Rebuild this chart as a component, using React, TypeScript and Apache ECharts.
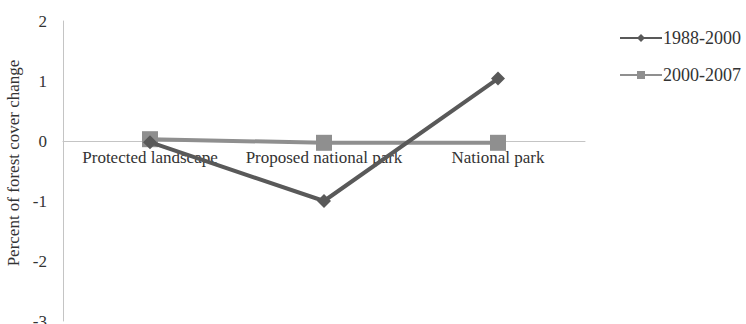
import React, { useEffect, useRef } from "react";
import * as echarts from "echarts";

const categories = ["Protected landscape", "Proposed national park", "National park"];
const series1988 = [-0.02, -1.0, 1.04];
const series2000 = [0.03, -0.03, -0.03];
const seriesNames = ["1988-2000", "2000-2007"];

export default function App() {
  const ref = useRef<HTMLDivElement>(null);
  useEffect(() => {
    const chart = echarts.init(ref.current!, null, { renderer: "svg" });
    const font = "Liberation Serif";
    const gridTop = 21;
    const gridBottom = 3;
    const plotH = 324 - gridTop - gridBottom;
    const yMin = -3;
    const yMax = 2;
    const zeroOffset = -plotH * (0 - yMin) / (yMax - yMin);
    chart.setOption({
      animation: false,
      textStyle: { fontFamily: font },
      grid: { left: 63, right: 161, top: gridTop, bottom: gridBottom, containLabel: false, outerBoundsMode: "none" },
      legend: {
        orient: "vertical",
        left: 614,
        top: 24,
        itemWidth: 42,
        itemHeight: 10,
        itemGap: 19,
        textStyle: { fontFamily: font, fontSize: 18, color: "#333", padding: [0, 0, 0, -4] },
        data: seriesNames,
      },
      xAxis: {
        type: "category",
        data: categories,
        boundaryGap: true,
        position: "bottom",
        offset: zeroOffset,
        axisLine: { onZero: false, lineStyle: { color: "#c4c4c4", width: 1 } },
        axisTick: { show: false },
        axisLabel: { fontFamily: font, fontSize: 17, color: "#333", margin: 8, interval: 0 },
      },
      yAxis: {
        type: "value",
        min: yMin,
        max: yMax,
        interval: 1,
        name: "Percent of forest cover change",
        nameLocation: "middle",
        nameGap: 40,
        nameTextStyle: { fontFamily: font, fontSize: 17, color: "#333", padding: [0, 0, 0, 16] },
        axisLine: { show: true, lineStyle: { color: "#c4c4c4", width: 1 } },
        axisTick: { show: false },
        splitLine: { show: false },
        axisLabel: { fontFamily: font, fontSize: 17, color: "#333", margin: 16 },
      },
      series: [
        {
          name: seriesNames[0],
          type: "line",
          data: series1988,
          symbol: "diamond",
          symbolSize: 14,
          lineStyle: { color: "#595959", width: 4 },
          itemStyle: { color: "#595959" },
          z: 3,
        },
        {
          name: seriesNames[1],
          type: "line",
          data: series2000,
          symbol: "rect",
          symbolSize: 16,
          lineStyle: { color: "#8f8f8f", width: 4 },
          itemStyle: { color: "#8f8f8f" },
          z: 2,
        },
      ],
    });
    return () => chart.dispose();
  }, []);
  return <div ref={ref} style={{ width: 746, height: 324, position: "absolute", left: 0, top: 0, background: "#fff" }} />;
}
